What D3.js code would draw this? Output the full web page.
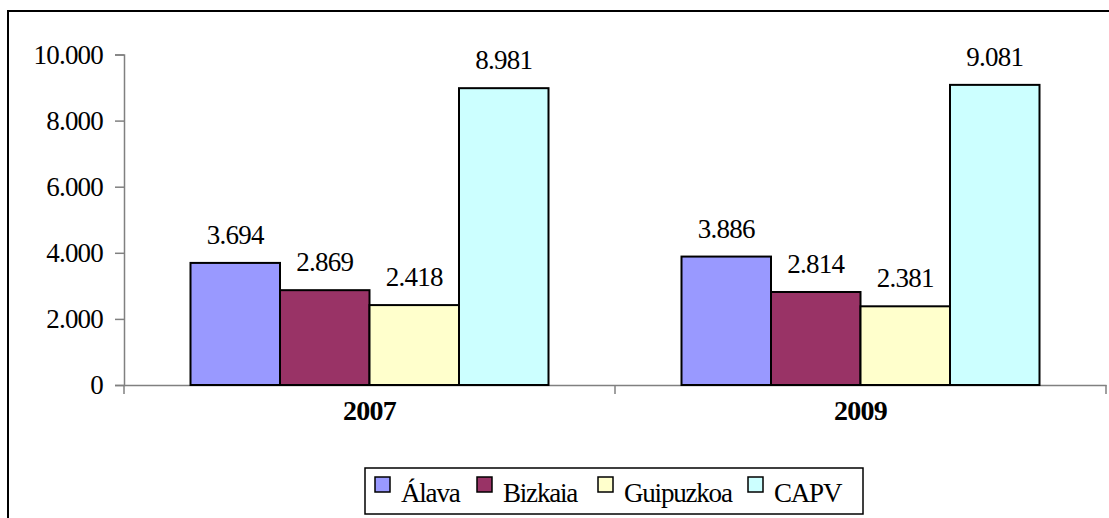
<!DOCTYPE html>
<meta charset="utf-8">
<title>Bar chart</title>
<style>
  body { margin: 0; background: #fff; }
  svg text { font-family: "Liberation Serif", "Times New Roman", "DejaVu Serif", serif; fill: #000; }
</style>
<div id="viz"></div>
<script src="https://cdnjs.cloudflare.com/ajax/libs/d3/7.8.5/d3.min.js"></script>
<script>

var years = ["2007", "2009"];
var regions = ["Álava", "Bizkaia", "Guipuzkoa", "CAPV"];
var colors = ["#9999ff", "#993366", "#ffffcc", "#ccffff"];
var values2007 = [3694, 2869, 2418, 8981];
var values2009 = [3886, 2814, 2381, 9081];
var yTicks = [0, 2000, 4000, 6000, 8000, 10000];

var width = 1109;
var height = 518;
var serif = "'Liberation Serif', 'Times New Roman', serif";

var loc = d3.formatLocale({decimal: ",", thousands: ".", grouping: [3], currency: ["", "€"]});
var fmt = loc.format(",d");

var svg = d3.select("#viz")
    .append("svg")
    .attr("width", width)
    .attr("height", height);

// outer frame (right and bottom fall outside the picture)
svg.append("rect")
  .attr("x", 8).attr("y", 11)
  .attr("width", 1120).attr("height", 530)
  .attr("fill", "none")
  .attr("stroke", "#000")
  .attr("stroke-width", 2);

var x0 = d3.scaleBand().domain(years).range([124, 1106]);
var x1 = d3.scaleBand().domain(regions).range([0, 358]);
var y = d3.scaleLinear().domain([0, 10000]).range([385, 54.5]);

// y axis
var yAxis = svg.append("g").attr("transform", "translate(124,0)")
  .call(d3.axisLeft(y).tickValues(yTicks).tickFormat(fmt).tickSize(9).tickPadding(12));
yAxis.attr("font-family", null);
yAxis.select(".domain").attr("stroke", "#808080").attr("stroke-width", 1.5);
yAxis.selectAll(".tick line").attr("stroke", "#808080").attr("stroke-width", 1.5);
yAxis.selectAll(".tick text")
  .style("font-family", serif)
  .style("font-size", "27px")
  .attr("letter-spacing", -0.8)
  .attr("fill", "#000");

// x axis
var xAxis = svg.append("g").attr("transform", "translate(0,385)")
  .call(d3.axisBottom(x0).tickSize(0).tickFormat(""));
xAxis.select(".domain").attr("stroke", "#808080").attr("stroke-width", 1.5);
// ticks between categories
var bounds = [x0.range()[0]].concat(years.map(function(d) { return x0(d) + x0.bandwidth(); }));
svg.selectAll(".xtick").data(bounds).enter().append("line")
  .attr("x1", function(d) { return d; }).attr("x2", function(d) { return d; })
  .attr("y1", 385).attr("y2", 394)
  .attr("stroke", "#808080").attr("stroke-width", 1.5);

svg.selectAll(".cat").data(years).enter().append("text")
  .attr("x", function(d) { return x0(d) + x0.bandwidth() / 2; })
  .attr("y", 420)
  .attr("text-anchor", "middle")
  .style("font-family", serif)
  .style("font-size", "28px")
  .style("font-weight", "bold")
  .attr("letter-spacing", -0.8)
  .text(function(d) { return d; });

var series = [values2007, values2009];
var pad = (x0.bandwidth() - 358) / 2;

var groups = svg.selectAll(".grp").data(years).enter().append("g")
  .attr("transform", function(d) { return "translate(" + (x0(d) + pad) + ",0)"; });

groups.each(function(yr, i) {
  var g = d3.select(this);
  var rows = regions.map(function(r, j) { return {r: r, v: series[i][j], c: colors[j]}; });
  g.selectAll("rect").data(rows).enter().append("rect")
    .attr("x", function(d) { return x1(d.r); })
    .attr("y", function(d) { return y(d.v); })
    .attr("width", x1.bandwidth())
    .attr("height", function(d) { return y(0) - y(d.v); })
    .attr("fill", function(d) { return d.c; })
    .attr("stroke", "#000")
    .attr("stroke-width", 2);
  g.selectAll(".lbl").data(rows).enter().append("text")
    .attr("x", function(d) { return x1(d.r) + x1.bandwidth() / 2; })
    .attr("y", function(d) { return y(d.v) - 19; })
    .attr("text-anchor", "middle")
    .style("font-family", serif)
    .style("font-size", "27px")
    .attr("letter-spacing", -0.8)
    .text(function(d) { return fmt(d.v); });
});

// legend
var legend = svg.append("g");
legend.append("rect")
  .attr("x", 365).attr("y", 468)
  .attr("width", 498).attr("height", 46)
  .attr("fill", "#fff")
  .attr("stroke", "#000")
  .attr("stroke-width", 1.5);

var swatchX = [375, 477, 598, 748];
regions.forEach(function(r, j) {
  legend.append("rect")
    .attr("x", swatchX[j]).attr("y", 477)
    .attr("width", 15).attr("height", 15)
    .attr("fill", colors[j])
    .attr("stroke", "#000")
    .attr("stroke-width", 1.5);
  legend.append("text")
    .attr("x", swatchX[j] + 26).attr("y", 502)
    .style("font-family", serif)
    .style("font-size", "27px")
    .attr("letter-spacing", -1.2)
    .text(r);
});

</script>
